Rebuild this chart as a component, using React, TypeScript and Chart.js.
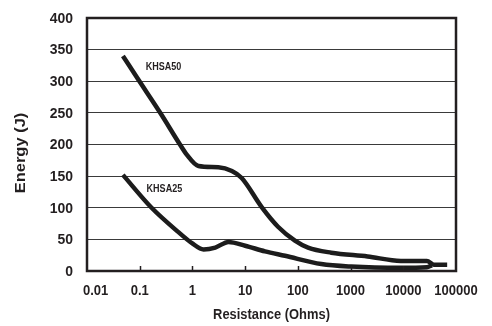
import React, { useEffect, useRef } from "react";
import { Chart, registerables } from "chart.js";

Chart.register(...registerables);

// KHSA50 curve
const resistance50 = [0.048, 0.09, 0.25, 0.58, 0.78, 1.3, 3.1, 5.6, 8.6, 20.6, 42, 88, 156, 430, 2100, 9000, 28000, 38000, 68000];
const energy50 = [340, 305, 249, 200, 184, 166, 164, 158, 147, 101, 70, 48, 37, 29, 23, 16, 16, 10, 10];

// KHSA25 curve
const resistance25 = [0.048, 0.168, 0.55, 0.98, 1.63, 2.72, 4.84, 10, 23.8, 57, 279, 1020, 9000, 28000, 35000];
const energy25 = [152, 100, 61, 44, 34, 37, 46, 40, 31, 24, 11, 7, 5, 6, 9];

// axis ticks
const xTickValues = [0.01, 0.1, 1, 10, 100, 1000, 10000, 100000];
const xTickLabels = ["0.01", "0.1", "1", "10", "100", "1000", "10000", "100000"];
const yTickValues = [0, 50, 100, 150, 200, 250, 300, 350, 400];
const yTickLabels = ["0", "50", "100", "150", "200", "250", "300", "350", "400"];

// titles
const xTitle = "Resistance (Ohms)";
const yTitle = "Energy (J)";

// in-chart series labels (anchored in data coordinates)
const seriesNames = ["KHSA50", "KHSA25"];
const seriesLabelX = [0.13, 0.135];
const seriesLabelY = [322, 130];

const FONT = "'Liberation Sans', Arial, sans-serif";
const INK = "#231f20";

function drawText(ctx: any, text: string, x: number, y: number, size: number, sx: number, align: string, rotate = 0) {
  ctx.save();
  ctx.translate(x, y);
  if (rotate) ctx.rotate(rotate);
  ctx.scale(sx, 1);
  ctx.font = `bold ${size}px ${FONT}`;
  ctx.fillStyle = INK;
  ctx.textAlign = align;
  ctx.textBaseline = "middle";
  ctx.fillText(text, 0, 0);
  ctx.restore();
}

const framePlugin = {
  id: "frame",
  afterDatasetsDraw(chart: any) {
    const { ctx, chartArea, scales } = chart;
    ctx.save();
    // inner tick marks on the x axis
    ctx.strokeStyle = INK;
    ctx.lineWidth = 1.5;
    xTickValues.slice(1, -1).forEach((v) => {
      const px = Math.round(scales.x.getPixelForValue(v)) + 0.5;
      ctx.beginPath();
      ctx.moveTo(px, chartArea.bottom);
      ctx.lineTo(px, chartArea.bottom - 5);
      ctx.stroke();
    });
    // frame
    ctx.lineWidth = 2.5;
    ctx.strokeStyle = INK;
    ctx.strokeRect(chartArea.left, chartArea.top, chartArea.right - chartArea.left, chartArea.bottom - chartArea.top);
    ctx.restore();

    // y tick labels
    yTickValues.forEach((v, i) => {
      drawText(ctx, yTickLabels[i], chartArea.left - 14, scales.y.getPixelForValue(v) + 0.5, 15.5, 0.9, "right");
    });
    // x tick labels
    xTickValues.forEach((v, i) => {
      const px = scales.x.getPixelForValue(v);
      if (i === 0) drawText(ctx, xTickLabels[i], px - 4, chartArea.bottom + 20, 15.5, 0.84, "left");
      else drawText(ctx, xTickLabels[i], px, chartArea.bottom + 20, 15.5, 0.84, "center");
    });
    // axis titles
    drawText(ctx, xTitle, (chartArea.left + chartArea.right) / 2, chartArea.bottom + 43.5, 15, 0.86, "center");
    drawText(ctx, yTitle, 21, (chartArea.top + chartArea.bottom) / 2 + 8.5, 15, 1.1, "center", -Math.PI / 2);
    // series labels
    seriesNames.forEach((name, i) => {
      drawText(ctx, name, scales.x.getPixelForValue(seriesLabelX[i]), scales.y.getPixelForValue(seriesLabelY[i]), 11, 0.82, "left");
    });
  },
};

export default function App() {
  const ref = useRef<HTMLCanvasElement>(null);

  useEffect(() => {
    if (!ref.current) return;
    const chart = new Chart(ref.current, {
      type: "line",
      data: {
        datasets: [
          {
            label: "KHSA50",
            data: resistance50.map((r, i) => ({ x: r, y: energy50[i] })),
            borderColor: "#1c1c1c",
            borderWidth: 4.5,
            pointRadius: 0,
            cubicInterpolationMode: "monotone",
            fill: false,
          },
          {
            label: "KHSA25",
            data: resistance25.map((r, i) => ({ x: r, y: energy25[i] })),
            borderColor: "#1c1c1c",
            borderWidth: 4.5,
            pointRadius: 0,
            cubicInterpolationMode: "monotone",
            fill: false,
          },
        ],
      },
      options: {
        responsive: false,
        animation: false,
        layout: { padding: { top: 18, right: 36, left: 0, bottom: 0 } },
        plugins: { legend: { display: false }, tooltip: { enabled: false } },
        scales: {
          x: {
            type: "logarithmic",
            min: 0.01,
            max: 100000,
            afterBuildTicks: (scale: any) => {
              scale.ticks = xTickValues.map((v) => ({ value: v }));
            },
            afterFit: (scale: any) => {
              scale.height = 55;
            },
            grid: { display: false },
            border: { display: false },
            ticks: { display: false },
            title: { display: false },
          },
          y: {
            min: 0,
            max: 400,
            afterBuildTicks: (scale: any) => {
              scale.ticks = yTickValues.map((v) => ({ value: v }));
            },
            afterFit: (scale: any) => {
              scale.width = 87;
            },
            grid: { color: "#3a3a3a", lineWidth: 1, drawTicks: false },
            border: { display: false },
            ticks: { display: false },
            title: { display: false },
          },
        },
      },
      plugins: [framePlugin],
    });
    return () => chart.destroy();
  }, []);

  return (
    <div style={{ position: "absolute", left: 0, top: 0, width: 492, height: 326, background: "#fff" }}>
      <canvas ref={ref} width={492} height={326} style={{ display: "block" }} />
    </div>
  );
}
